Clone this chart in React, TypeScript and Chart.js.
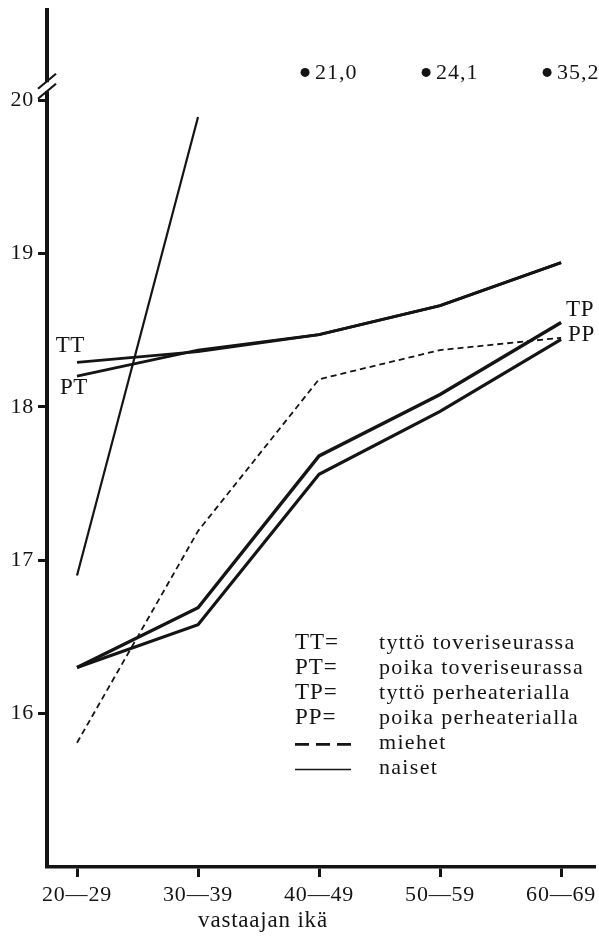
import { useEffect, useRef } from "react";
import { Chart, registerables } from "chart.js";

Chart.register(...registerables);

// ---- data ----
const categories = ["20\u201429", "30\u201439", "40\u201449", "50\u201459", "60\u201469"];
const yTicks = [16, 17, 18, 19, 20];
const ttValues = [18.29, 18.36, 18.47, 18.66, 18.94];
const ptValues = [18.2, 18.37, 18.47, 18.66, 18.94];
const tpValues = [16.3, 16.69, 17.68, 18.08, 18.55];
const ppValues = [16.3, 16.58, 17.56, 17.97, 18.44];
const miehetValues = [15.81, 17.19, 18.18, 18.37, 18.45];
const naisetValues: (number | null)[] = [16.9, 19.89, null, null, null];
const offScaleValues: (number | null)[] = [null, null, 21.0, 24.1, 35.2];
const seriesCodes = ["TT", "PT", "TP", "PP"];
const legendCodes = ["TT=", "PT=", "TP=", "PP="];
const legendNames = [
  "tyttö toveriseurassa",
  "poika toveriseurassa",
  "tyttö perheaterialla",
  "poika perheaterialla",
  "miehet",
  "naiset",
];
const xTitle = "vastaajan ikä";

// ---- scale / style constants ----
const Y_MIN = 15;
const Y_MAX = 20.587;
const X_MIN = -0.248;
const X_MAX = 4.28;
const BREAK_AT = 20.09; // axis break position (value)
const OFF_LEVEL = 20.18; // level where off-scale values are shown
const INK = "#141414";
const FONT = '"Liberation Serif", "Times New Roman", serif';

const toXY = (vals: (number | null)[]) => vals.map((v, i) => ({ x: i, y: v }));

const spacing = {
  id: "spacing",
  beforeDraw(chart: any) {
    chart.ctx.letterSpacing = "0.8px";
  },
};

const annotate = {
  id: "annotate",
  afterDraw(chart: any) {
    const { ctx, chartArea, scales } = chart;
    const xs = scales.x;
    const ys = scales.y;
    ctx.save();

    // axis break
    const bx = chartArea.left - 1;
    const by = ys.getPixelForValue(BREAK_AT);
    ctx.fillStyle = "#fff";
    ctx.fillRect(bx - 4, by - 4, 8, 9);
    ctx.strokeStyle = INK;
    ctx.lineWidth = 2.2;
    for (const d of [-5, 5]) {
      ctx.beginPath();
      ctx.moveTo(bx - 8, by + d + 7.5);
      ctx.lineTo(bx + 10, by + d - 7.5);
      ctx.stroke();
    }

    // off-scale values
    ctx.fillStyle = INK;
    ctx.letterSpacing = "1px";
    ctx.font = `22px ${FONT}`;
    ctx.textAlign = "left";
    ctx.textBaseline = "middle";
    offScaleValues.forEach((v, i) => {
      if (v == null) return;
      const px = xs.getPixelForValue(i) - 14;
      const py = ys.getPixelForValue(OFF_LEVEL);
      ctx.beginPath();
      ctx.arc(px, py, 4.5, 0, Math.PI * 2);
      ctx.fill();
      ctx.fillText(v.toFixed(1).replace(".", ","), px + 10, py + 1);
    });

    // series labels
    const pt = (di: number, idx: number) => chart.getDatasetMeta(di).data[idx];
    const tt0 = pt(0, 0);
    const pt0 = pt(1, 0);
    const tpN = pt(2, 4);
    const ppN = pt(3, 4);
    ctx.font = `23px ${FONT}`;
    ctx.letterSpacing = "0.6px";
    ctx.textAlign = "right";
    ctx.fillText(seriesCodes[0], tt0.x + 8, tt0.y - 16);
    ctx.fillText(seriesCodes[1], pt0.x + 11, pt0.y + 12);
    ctx.textAlign = "left";
    ctx.fillText(seriesCodes[2], tpN.x + 5, tpN.y - 13);
    ctx.fillText(seriesCodes[3], ppN.x + 7, ppN.y - 4);

    // legend
    const lx = 295;
    const nx = 379;
    const ly = 643;
    const dy = 25.1;
    legendNames.forEach((name, i) => {
      const y = ly + i * dy;
      if (i < legendCodes.length) {
        ctx.textAlign = "left";
        ctx.font = `23px ${FONT}`;
        ctx.letterSpacing = "1px";
        ctx.fillText(legendCodes[i], lx, y);
      } else {
        ctx.beginPath();
        ctx.lineWidth = i === 4 ? 2.6 : 1.5;
        ctx.setLineDash(i === 4 ? [14, 7] : []);
        ctx.moveTo(lx, y + 1);
        ctx.lineTo(lx + 56, y + 1);
        ctx.stroke();
        ctx.setLineDash([]);
      }
      ctx.textAlign = "left";
      ctx.font = `22px ${FONT}`;
      ctx.letterSpacing = "1.3px";
      ctx.fillText(name, nx, y);
    });

    // axis title
    ctx.font = `23px ${FONT}`;
    ctx.letterSpacing = "0.8px";
    ctx.textAlign = "center";
    ctx.fillText(xTitle, chartArea.left + 216, 921);
    ctx.restore();
  },
};

export default function App() {
  const ref = useRef<HTMLCanvasElement | null>(null);
  useEffect(() => {
    document.body.style.margin = "0";
    const canvas = ref.current;
    if (!canvas) return;
    const line = (data: (number | null)[], width: number, dash: number[] = []) => ({
      data: toXY(data),
      borderColor: INK,
      borderWidth: width,
      borderDash: dash,
      pointRadius: 0,
      fill: false,
      tension: 0,
      spanGaps: false,
    });
    const chart = new Chart(canvas, {
      type: "line",
      data: {
        datasets: [
          line(ttValues, 2.8),
          line(ptValues, 2.8),
          line(tpValues, 3.4),
          line(ppValues, 3.2),
          line(miehetValues, 1.8, [6, 4]),
          line(naisetValues, 2.2),
        ] as any,
      },
      options: {
        animation: false,
        responsive: false,
        devicePixelRatio: 1,
        layout: { padding: { top: 10, right: 4, left: 0, bottom: 0 } },
        plugins: { legend: { display: false }, tooltip: { enabled: false } },
        scales: {
          x: {
            type: "linear",
            min: X_MIN,
            max: X_MAX,
            afterBuildTicks: (s: any) => {
              s.ticks = categories.map((_, i) => ({ value: i }));
            },
            afterFit: (s: any) => {
              s.height = 69;
              s.paddingLeft = 0;
              s.paddingRight = 0;
            },
            ticks: {
              callback: (v: any) => categories[v as number] ?? "",
              color: INK,
              font: { family: FONT, size: 22 },
              padding: 5,
              maxRotation: 0,
              autoSkip: false,
            },
            grid: { drawOnChartArea: false, tickLength: 10, tickWidth: 3, tickColor: INK },
            border: { color: INK, width: 3.5 },
          },
          y: {
            type: "linear",
            min: Y_MIN,
            max: Y_MAX,
            afterBuildTicks: (s: any) => {
              s.ticks = yTicks.map((v) => ({ value: v }));
            },
            afterFit: (s: any) => {
              s.width = 47;
              s.paddingTop = 0;
              s.paddingBottom = 0;
            },
            ticks: {
              color: INK,
              font: { family: FONT, size: 22 },
              padding: 4,
              callback: (v: any) => String(v),
            },
            grid: { drawOnChartArea: false, tickLength: 9, tickWidth: 3, tickColor: INK },
            border: { color: INK, width: 4 },
          },
        },
      },
      plugins: [spacing, annotate],
    } as any);
    return () => chart.destroy();
  }, []);
  return (
    <div style={{ position: "absolute", left: 0, top: 0, width: 599, height: 936, background: "#fff" }}>
      <canvas ref={ref} width={599} height={936} style={{ width: 599, height: 936, display: "block" }} />
    </div>
  );
}
